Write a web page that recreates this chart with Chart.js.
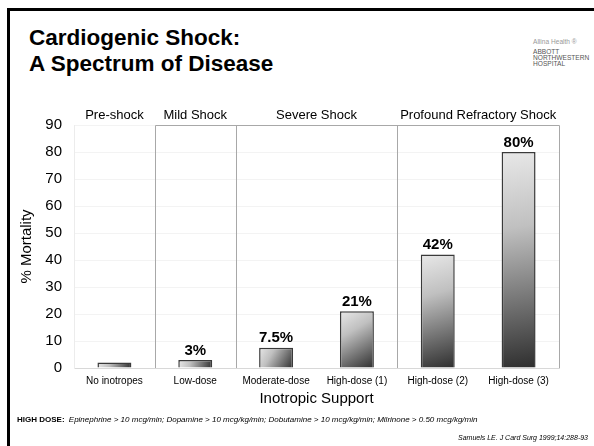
<!DOCTYPE html>
<html>
<head>
<meta charset="utf-8">
<script src="https://cdn.jsdelivr.net/npm/chart.js@4/dist/chart.umd.min.js"></script>
<style>
  html, body { margin: 0; padding: 0; background: #fff; }
  body { width: 594px; height: 446px; position: relative; overflow: hidden; font-family: "Liberation Sans", Arial, sans-serif; }
  #frame { position: absolute; left: 7px; top: 8px; right: -10px; bottom: -10px; border-left: 3px solid #000; border-top: 3px solid #000; }
  #title { position: absolute; left: 29px; top: 25px; font-weight: bold; font-size: 22.5px; line-height: 26px; color: #000; }
  #logo { position: absolute; left: 533px; top: 39px; font-size: 6.6px; line-height: 6px; color: #555; }
  #logo .a { color: #999; margin-bottom: 4px; }
  #foot { position: absolute; left: 17px; top: 415px; font-size: 8px; line-height: 9px; color: #000; white-space: nowrap; }
  #foot b { margin-right: 2px; }
  #src { position: absolute; right: 6px; top: 434px; font-size: 7px; line-height: 8px; font-style: italic; color: #000; white-space: nowrap; }
  canvas { position: absolute; left: 0; top: 0; }
</style>
</head>
<body>
<div id="frame"></div>
<div id="title">Cardiogenic Shock:<br>A Spectrum of Disease</div>
<div id="logo"><div class="a">Allina Health ®</div>ABBOTT<br>NORTHWESTERN<br>HOSPITAL</div>
<canvas id="c" width="594" height="446"></canvas>
<div id="foot"><b>HIGH DOSE:</b> <i>Epinephrine &gt; 10 mcg/min; Dopamine &gt; 10 mcg/kg/min; Dobutamine &gt; 10 mcg/kg/min; Milrinone &gt; 0.50 mcg/kg/min</i></div>
<div id="src">Samuels LE. J Card Surg 1999;14:288-93</div>
<script>
const categories = ['No inotropes', 'Low-dose', 'Moderate-dose', 'High-dose (1)', 'High-dose (2)', 'High-dose (3)'];
const mortality = [2, 3, 7.5, 21, 42, 80];
const valueLabels = ['', '3%', '7.5%', '21%', '42%', '80%'];
const sectionNames = ['Pre-shock', 'Mild Shock', 'Severe Shock', 'Profound Refractory Shock'];
const sectionFirst = [0, 1, 2, 4];
const sectionLast = [0, 1, 3, 5];
const yTicks = [0, 10, 20, 30, 40, 50, 60, 70, 80, 90];

const FONT = '"Liberation Sans", Arial, sans-serif';
const BAR_PCT = 0.42;

function barGradient(ctx) {
  const chart = ctx.chart;
  if (ctx.type !== 'data' || !chart.chartArea) return '#888';
  const xs = chart.scales.x, ys = chart.scales.y;
  const cx = xs.getPixelForValue(ctx.dataIndex);
  const step = xs.width / categories.length;
  const half = step * BAR_PCT / 2;
  const top = ys.getPixelForValue(ctx.raw);
  const base = ys.getPixelForValue(0);
  const g = chart.ctx.createLinearGradient(cx - half, top, cx + half, base);
  g.addColorStop(0, '#e8e8e8');
  g.addColorStop(0.35, '#c0c0c0');
  g.addColorStop(1, '#2e2e2e');
  return g;
}

const sectionPlugin = {
  id: 'sections',
  beforeDatasetsDraw(chart) {
    const {ctx, chartArea} = chart;
    const xs = chart.scales.x;
    const step = xs.width / categories.length;
    const edge = i => xs.getPixelForValue(i) - step / 2;
    ctx.save();
    ctx.strokeStyle = '#a8a8a8';
    ctx.lineWidth = 1;
    ctx.beginPath();
    const top = Math.round(chartArea.top) + 0.5;
    const bottom = chartArea.bottom;
    const xLeft = Math.round(edge(1)) + 0.5;
    const xRight = Math.round(edge(categories.length)) + 0.5;
    ctx.moveTo(xLeft, top); ctx.lineTo(xRight, top);
    for (let s = 1; s < sectionNames.length; s++) {
      const x = Math.round(edge(sectionFirst[s])) + 0.5;
      ctx.moveTo(x, top); ctx.lineTo(x, bottom);
    }
    ctx.moveTo(xRight, top); ctx.lineTo(xRight, bottom);
    ctx.stroke();
    ctx.fillStyle = '#000';
    ctx.font = '13px ' + FONT;
    ctx.textAlign = 'center';
    ctx.textBaseline = 'middle';
    sectionNames.forEach((name, s) => {
      const x0 = edge(sectionFirst[s]);
      const x1 = edge(sectionLast[s] + 1);
      ctx.fillText(name, (x0 + x1) / 2, chartArea.top - 10);
    });
    ctx.restore();
  },
  afterDatasetsDraw(chart) {
    const {ctx} = chart;
    const meta = chart.getDatasetMeta(0);
    ctx.save();
    ctx.fillStyle = '#000';
    ctx.font = 'bold 15px ' + FONT;
    ctx.textAlign = 'center';
    ctx.textBaseline = 'bottom';
    meta.data.forEach((el, i) => {
      if (valueLabels[i]) ctx.fillText(valueLabels[i], el.x, el.y - 2);
    });
    ctx.restore();
  }
};

new Chart(document.getElementById('c'), {
  type: 'bar',
  data: {
    labels: categories,
    datasets: [{
      data: mortality,
      backgroundColor: barGradient,
      borderColor: '#3a3a3a',
      borderWidth: 1.5,
      categoryPercentage: 1,
      barPercentage: BAR_PCT
    }]
  },
  options: {
    responsive: false,
    animation: false,
    events: [],
    layout: { padding: { top: 125, left: 10, right: 35, bottom: 38 } },
    plugins: { legend: { display: false }, tooltip: { enabled: false } },
    scales: {
      x: {
        grid: { display: false, drawTicks: false },
        border: { color: '#d8d8d8' },
        ticks: { color: '#000', font: { family: FONT, size: 10 }, padding: 7, maxRotation: 0, autoSkip: false },
        title: { display: true, text: 'Inotropic Support', color: '#000', font: { family: FONT, size: 15 }, padding: { top: 2, bottom: 0 } },
        afterFit(scale) { scale.height = 40; }
      },
      y: {
        min: 0, max: 90,
        afterBuildTicks(scale) { scale.ticks = yTicks.map(v => ({ value: v })); },
        grid: { color: '#f3f3f3', drawTicks: false },
        border: { color: '#ececec' },
        ticks: { color: '#000', font: { family: FONT, size: 15 }, padding: 12 },
        title: { display: true, text: '% Mortality', color: '#000', font: { family: FONT, size: 15 }, padding: { top: 8, bottom: 0 } },
        afterFit(scale) { scale.width = 64; }
      }
    }
  },
  plugins: [sectionPlugin]
});
</script>
</body>
</html>
